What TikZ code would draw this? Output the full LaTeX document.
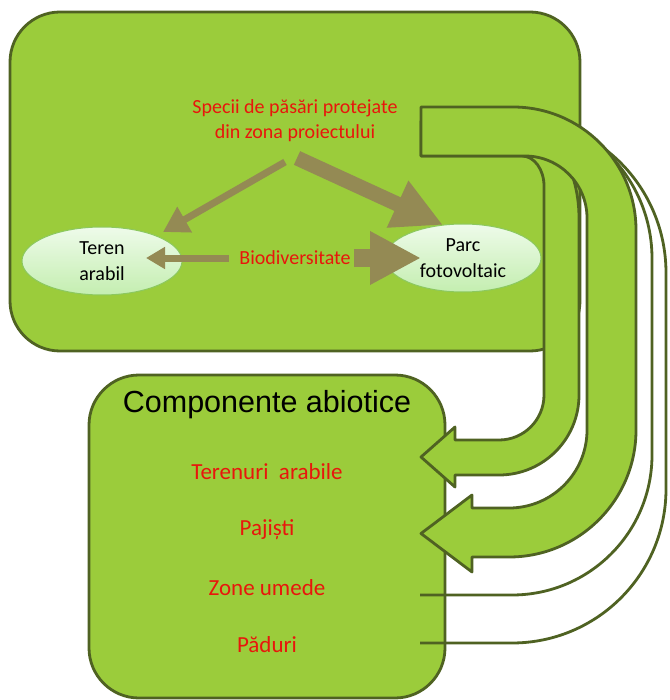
\documentclass[tikz,border=0pt]{standalone}
\usepackage{fontspec}
\setmainfont{Carlito}
\newfontfamily\arialfont{Liberation Sans}
\usetikzlibrary{arrows.meta,positioning,shapes.geometric}
\definecolor{boxgreen}{RGB}{155,204,59}
\definecolor{edgegreen}{RGB}{79,98,34}
\definecolor{arrowtan}{RGB}{148,138,84}
\definecolor{labelred}{RGB}{232,22,12}
\definecolor{ovaltop}{RGB}{238,251,234}
\definecolor{ovalbottom}{RGB}{196,238,176}
\definecolor{ovaledge}{RGB}{140,200,95}

\begin{document}
\begin{tikzpicture}[x=1pt,y=-1pt,
  panel/.style={draw=edgegreen,line width=2.8pt,fill=boxgreen,rounded corners=50pt},
  uarrow/.style={draw=edgegreen,line width=2.8pt,fill=boxgreen,line join=round},
  uline/.style={draw=edgegreen,line width=2.8pt},
  habitat/.style={ellipse,draw=ovaledge,line width=1pt,top color=ovaltop,bottom color=ovalbottom,
    minimum width=160pt,minimum height=68pt,inner sep=0pt,align=center,font=\fontsize{20}{26}\selectfont},
  redtext/.style={text=labelred,align=center,font=\fontsize{20}{25}\selectfont},
  itemtext/.style={text=labelred,font=\fontsize{23}{28}\selectfont},
  link/.style={draw=arrowtan}]
\useasboundingbox (0,0) rectangle (669,700);

% panels
\draw[panel] (10,12) rectangle (580,351);
\draw[panel] (89,375) rectangle (445,698);

% u-turn arrows
\draw[uline] (513,115) arc[start angle=-90,end angle=0,x radius=139,y radius=143.6] -- (652,455)
  arc[start angle=0,end angle=90,radius=140] -- (420,595);
\draw[uline] (513,118) arc[start angle=-90,end angle=0,x radius=153,y radius=155] -- (666,489)
  arc[start angle=0,end angle=90,radius=154] -- (420,643);
\draw[uarrow] (421,121) -- (513,121) arc[start angle=-90,end angle=0,x radius=66,y radius=97] -- (579,395)
  arc[start angle=0,end angle=90,radius=80] -- (455,475) -- (455,487) -- (421,457) -- (455,427) -- (455,440)
  -- (499,440) arc[start angle=90,end angle=0,radius=45] -- (544,186)
  arc[start angle=0,end angle=-90,x radius=22,y radius=30] -- (421,156) -- cycle;
\draw[uarrow] (421,107) -- (513,107) arc[start angle=-90,end angle=0,radius=123] -- (636,430)
  arc[start angle=0,end angle=90,radius=127] -- (472,557) -- (472,572) -- (421,533.5) -- (472,495) -- (472,508)
  -- (509,508) arc[start angle=90,end angle=0,radius=78] -- (587,218)
  arc[start angle=0,end angle=-90,radius=62] -- (421,156) -- cycle;

% upper panel
\node[redtext] (specii) at (295,120.5) {Specii de păsări protejate\\din zona proiectului};
\node[habitat] (teren) at (102,261) {Teren\\arabil};
\node[habitat,minimum width=156pt] (parc) at (463,258) {Parc\\fotovoltaic};
\node[redtext] (biodiv) at (295,258) {Biodiversitate};
\draw[link,line width=7pt,-{Triangle[length=25pt,width=28pt]}] ([shift={(-10,41.5)}]specii.center) -- ([shift={(61,-29)}]teren.center);
\draw[link,line width=15pt,-{Triangle[length=50pt,width=48pt]}] ([shift={(2,37.5)}]specii.center) -- ([shift={(-20,-33)}]parc.center);
\draw[link,line width=7pt,-{Triangle[length=19pt,width=21pt]}] ([shift={(-7,0)}]biodiv.west) -- ([shift={(44,-3)}]teren.center);
\draw[link,line width=17pt,-{Triangle[length=51pt,width=50pt]}] (biodiv.east) -- ([shift={(-42,0)}]parc.center);

% lower panel
\node[font=\arialfont\fontsize{30.5}{36}\selectfont] (abiotic) at (267,405) {Componente abiotice};
\node[itemtext] (arabile) at (267,472) {Terenuri\ \ arabile};
\node[itemtext] (pajisti) at (267,530) {Pajiști};
\node[itemtext] (umede) at (267,588) {Zone umede};
\node[itemtext] (paduri) at (267,645) {Păduri};
\end{tikzpicture}
\end{document}
